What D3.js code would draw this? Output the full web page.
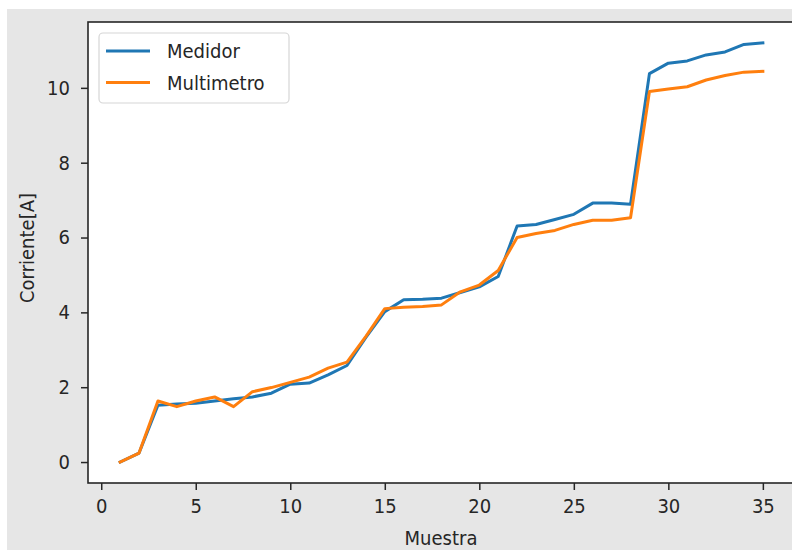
<!DOCTYPE html>
<html>
<head>
<meta charset="utf-8">
<script src="https://cdn.jsdelivr.net/npm/d3@7"></script>
<style>
  body { margin: 0; background: #fff; }
  text { font-family: "DejaVu Sans Condensed", "DejaVu Sans", sans-serif; fill: #262626; }
</style>
</head>
<body>
<div id="chart"></div>
<script>
// Data
var muestra = d3.range(1, 36);
var medidor = [0.0, 0.24, 1.52, 1.55, 1.57, 1.63, 1.69, 1.74, 1.84, 2.08, 2.11, 2.33, 2.58, 3.33, 4.02,
  4.34, 4.35, 4.38, 4.53, 4.68, 4.96, 6.31, 6.35, 6.48, 6.62, 6.92, 6.92, 6.89,
  10.38, 10.66, 10.72, 10.88, 10.96, 11.16, 11.2];
var multimetro = [0.0, 0.24, 1.63, 1.48, 1.63, 1.74, 1.48, 1.88, 1.99, 2.13, 2.27, 2.51, 2.67, 3.36, 4.1,
  4.14, 4.16, 4.2, 4.55, 4.73, 5.12, 6.0, 6.11, 6.19, 6.35, 6.46, 6.46, 6.53,
  9.9, 9.97, 10.03, 10.21, 10.33, 10.42, 10.44];
var xTicks = [0, 5, 10, 15, 20, 25, 30, 35];
var yTicks = [0, 2, 4, 6, 8, 10];
var series = [
  { name: "Medidor", values: medidor, color: "#1f77b4" },
  { name: "Multimetro", values: multimetro, color: "#ff7f0e" }
];

var svgWidth = 792, svgHeight = 550;
var margin = { top: 22, left: 88 };
var plotRight = 795, plotBottom = 483;

var svg = d3.select("#chart").append("svg")
  .attr("width", svgWidth)
  .attr("height", svgHeight);

// figure background
svg.append("rect")
  .attr("x", 7).attr("y", 9)
  .attr("width", svgWidth).attr("height", svgHeight)
  .attr("fill", "#e6e6e6");

// 5% margins like matplotlib
var xMin = d3.min(muestra), xMax = d3.max(muestra);
var xPad = (xMax - xMin) * 0.05;
var yMin = d3.min(medidor.concat(multimetro)), yMax = d3.max(medidor.concat(multimetro));
var yPad = (yMax - yMin) * 0.05;

var x = d3.scaleLinear().domain([xMin - xPad, xMax + xPad]).range([margin.left, plotRight]);
var y = d3.scaleLinear().domain([yMin - yPad, yMax + yPad]).range([plotBottom, margin.top]);

svg.append("rect")
  .attr("x", margin.left).attr("y", margin.top)
  .attr("width", plotRight - margin.left).attr("height", plotBottom - margin.top)
  .attr("fill", "#fff");

// lines
var line = d3.line()
  .x(function(d, i) { return x(muestra[i]); })
  .y(function(d) { return y(d); });

series.forEach(function(s) {
  svg.append("path")
    .datum(s.values)
    .attr("d", line)
    .attr("fill", "none")
    .attr("stroke", s.color)
    .attr("stroke-width", 3)
    .attr("stroke-linejoin", "round")
    .attr("stroke-linecap", "square");
});

// axes
var xAxis = svg.append("g")
  .attr("transform", "translate(0," + plotBottom + ")")
  .call(d3.axisBottom(x).tickValues(xTicks).tickSize(7).tickPadding(9));
var yAxis = svg.append("g")
  .attr("transform", "translate(" + margin.left + ",0)")
  .call(d3.axisLeft(y).tickValues(yTicks).tickSize(7).tickPadding(11));

[xAxis, yAxis].forEach(function(a) {
  a.select(".domain").remove();
  a.selectAll("line").attr("stroke", "#262626").attr("stroke-width", 1.5);
  a.selectAll("text").style("font-size", "20px").attr("fill", "#262626");
});

// spines
svg.append("rect")
  .attr("x", margin.left).attr("y", margin.top)
  .attr("width", plotRight - margin.left).attr("height", plotBottom - margin.top)
  .attr("fill", "none")
  .attr("stroke", "#262626")
  .attr("stroke-width", 1.6);

// axis labels
svg.append("text")
  .attr("x", 441).attr("y", 545)
  .attr("text-anchor", "middle")
  .style("font-size", "20px")
  .text("Muestra");

svg.append("text")
  .attr("transform", "translate(34,248) rotate(-90)")
  .attr("text-anchor", "middle")
  .style("font-size", "20px")
  .text("Corriente[A]");

// legend
var legend = svg.append("g");
legend.append("rect")
  .attr("x", 99).attr("y", 33)
  .attr("width", 190).attr("height", 70)
  .attr("rx", 4)
  .attr("fill", "#fff").attr("fill-opacity", 0.8)
  .attr("stroke", "#d6d6d6").attr("stroke-width", 1.2);

series.forEach(function(s, i) {
  var ly = 51 + i * 31.5;
  legend.append("line")
    .attr("x1", 106).attr("x2", 150)
    .attr("y1", ly).attr("y2", ly)
    .attr("stroke", s.color).attr("stroke-width", 3);
  legend.append("text")
    .attr("x", 167).attr("y", ly)
    .attr("dy", "0.36em")
    .style("font-size", "20px")
    .text(s.name);
});
</script>
</body>
</html>
